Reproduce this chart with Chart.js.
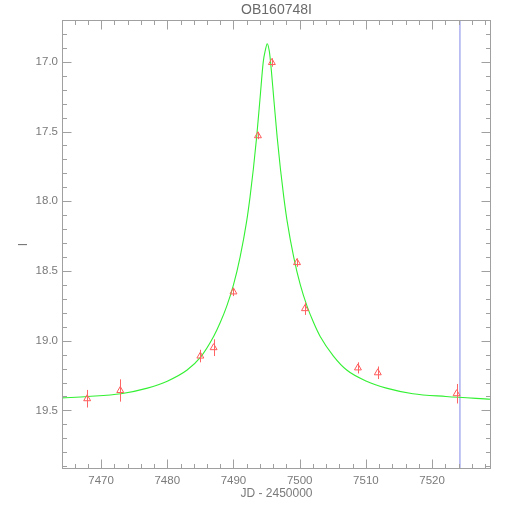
<!DOCTYPE html>
<html><head><meta charset="utf-8">
<script src="https://cdn.jsdelivr.net/npm/chart.js@4/dist/chart.umd.min.js"></script>
<style>html,body{margin:0;padding:0;background:#fff}</style>
</head><body>
<canvas id="c" width="510" height="510"></canvas>
<script>
const chartTitle = 'OB160748I';
const xTitle = 'JD - 2450000';
const yTitle = 'I';

// observations (red triangles with error bars)
const obsJD  = [7467.9, 7472.9, 7485.0, 7487.0, 7490.0, 7493.7, 7495.8, 7499.6, 7500.8, 7508.8, 7511.8, 7523.7];
const obsMag = [19.416, 19.357, 19.11, 19.05, 18.65, 17.53, 17.005, 18.44, 18.77, 19.195, 19.23, 19.38];
const obsErr = [0.063, 0.08, 0.045, 0.06, 0.03, 0.025, 0.03, 0.03, 0.045, 0.04, 0.045, 0.07];

// model light curve (green)
const modelJD  = [7464.1, 7468, 7473, 7477, 7480, 7483, 7485, 7487, 7488, 7489, 7490, 7491, 7492, 7492.5, 7493, 7493.5, 7494, 7494.5, 7494.8, 7495.1, 7495.4, 7495.6, 7496.1, 7496.6, 7497.1, 7497.6, 7498.1, 7499.1, 7500.1, 7501.1, 7502.1, 7503.1, 7505.1, 7507.1, 7510.1, 7513.1, 7517.1, 7522.1, 7528.9];
const modelMag = [19.41, 19.40, 19.38, 19.34, 19.29, 19.21, 19.12, 18.97, 18.87, 18.75, 18.60, 18.40, 18.14, 17.97, 17.77, 17.54, 17.27, 17.00, 16.92, 16.87, 16.92, 17.00, 17.27, 17.54, 17.77, 17.97, 18.14, 18.40, 18.60, 18.75, 18.87, 18.97, 19.11, 19.21, 19.29, 19.34, 19.38, 19.40, 19.42];

// vertical marker line
const markerJD = 7524.2;

const xRange = [7464.1, 7528.9];
const yRange = [16.70, 19.92];
const xTicks = [7470, 7480, 7490, 7500, 7510, 7520];
const yTicks = [17.0, 17.5, 18.0, 18.5, 19.0, 19.5];
const xMinorStep = 2;
const yMinorStep = 0.1;

const axisColor = '#a0a0a0';
const textColor = '#7a7a7a';
const fontFam = "'Liberation Sans', Arial, sans-serif";

const errorBars = {
  id: 'errorBars',
  afterDatasetsDraw(chart) {
    const xs = chart.scales.x, ys = chart.scales.y;
    const ctx = chart.ctx;
    ctx.save();
    ctx.strokeStyle = 'rgb(255,100,100)';
    ctx.lineWidth = 1;
    ctx.beginPath();
    obsJD.forEach((jd, i) => {
      const px = Math.round(xs.getPixelForValue(jd)) + 0.5;
      ctx.moveTo(px, ys.getPixelForValue(obsMag[i] - obsErr[i]));
      ctx.lineTo(px, ys.getPixelForValue(obsMag[i] + obsErr[i]));
    });
    ctx.stroke();
    ctx.restore();
  }
};

const frame = {
  id: 'frame',
  afterDraw(chart) {
    const {ctx, chartArea: a} = chart;
    const xs = chart.scales.x, ys = chart.scales.y;
    ctx.save();
    ctx.strokeStyle = axisColor;
    ctx.lineWidth = 1;
    const L = Math.round(a.left) + 0.5, R = Math.round(a.right) - 0.5;
    const T = Math.round(a.top) + 0.5, B = Math.round(a.bottom) - 0.5;
    ctx.strokeRect(L, T, R - L, B - T);
    ctx.beginPath();
    const major = 9, minor = 4.5;
    const xv0 = Math.ceil(xRange[0] / xMinorStep) * xMinorStep;
    for (let v = xv0; v <= xRange[1] + 1e-9; v += xMinorStep) {
      const isMaj = xTicks.some(t => Math.abs(t - v) < 1e-6);
      const len = isMaj ? major : minor;
      const px = Math.round(xs.getPixelForValue(v)) + 0.5;
      ctx.moveTo(px, B); ctx.lineTo(px, B - len);
      ctx.moveTo(px, T); ctx.lineTo(px, T + len);
    }
    const yv0 = Math.ceil(yRange[0] / yMinorStep - 1e-6) * yMinorStep;
    for (let k = 0; ; k++) {
      const v = yv0 + k * yMinorStep;
      if (v > yRange[1] + 1e-9) break;
      const isMaj = yTicks.some(t => Math.abs(t - v) < 1e-6);
      const len = isMaj ? major : minor;
      const py = Math.round(ys.getPixelForValue(v)) + 0.5;
      ctx.moveTo(L, py); ctx.lineTo(L + len, py);
      ctx.moveTo(R, py); ctx.lineTo(R - len, py);
    }
    ctx.stroke();
    ctx.restore();
  }
};

new Chart(document.getElementById('c'), {
  type: 'line',
  data: {
    datasets: [
      {
        label: 'obs',
        data: obsJD.map((x, i) => ({x, y: obsMag[i]})),
        showLine: false,
        pointStyle: 'triangle',
        pointRadius: 4,
        pointBorderWidth: 1,
        pointBorderColor: 'rgb(255,90,90)',
        pointBackgroundColor: 'rgba(0,0,0,0)',
        order: 0
      },
      {
        label: 'model',
        data: modelJD.map((x, i) => ({x, y: modelMag[i]})),
        borderColor: '#33f033',
        borderWidth: 1.1,
        pointRadius: 0,
        cubicInterpolationMode: 'monotone',
        fill: false,
        order: 1
      },
      {
        label: 'marker',
        data: [{x: markerJD, y: yRange[0]}, {x: markerJD, y: yRange[1]}],
        borderColor: '#b4b8f2',
        borderWidth: 1,
        pointRadius: 0,
        fill: false,
        order: 2
      }
    ]
  },
  options: {
    responsive: false,
    animation: false,
    devicePixelRatio: 1,
    layout: {padding: 0},
    plugins: {legend: {display: false}, tooltip: {enabled: false}, title: {display: false}},
    scales: {
      x: {
        type: 'linear', position: 'bottom', min: xRange[0], max: xRange[1],
        afterBuildTicks: s => { s.ticks = xTicks.map(v => ({value: v})); },
        afterFit: s => { s.height = 41; },
        grid: {display: false, drawTicks: false},
        border: {display: false},
        ticks: {color: textColor, font: {family: fontFam, size: 11.5}, padding: 5, maxRotation: 0, autoSkip: false, callback: v => String(v)},
        title: {display: true, text: xTitle, color: textColor, font: {family: fontFam, size: 12}, padding: {top: 0, bottom: 9}}
      },
      x2: {
        type: 'linear', position: 'top', min: xRange[0], max: xRange[1],
        afterFit: s => { s.height = 20; },
        grid: {display: false, drawTicks: false},
        border: {display: false},
        ticks: {display: false},
        title: {display: true, text: chartTitle, color: '#6a6a6a', font: {family: fontFam, size: 14}, padding: {top: 1.5, bottom: 0}}
      },
      y: {
        type: 'linear', position: 'left', reverse: true, min: yRange[0], max: yRange[1],
        afterBuildTicks: s => { s.ticks = yTicks.map(v => ({value: v})); },
        afterFit: s => { s.width = 62; },
        grid: {display: false, drawTicks: false},
        border: {display: false},
        ticks: {color: textColor, font: {family: fontFam, size: 11.5}, padding: 4, autoSkip: false, callback: v => Number(v).toFixed(1)},
        title: {display: true, text: yTitle, color: textColor, font: {family: fontFam, size: 12}, padding: {top: 16, bottom: 0}}
      },
      y2: {
        type: 'linear', position: 'right', reverse: true, min: yRange[0], max: yRange[1],
        afterFit: s => { s.width = 19; },
        grid: {display: false, drawTicks: false},
        border: {display: false},
        ticks: {display: false}
      }
    }
  },
  plugins: [errorBars, frame]
});
</script>
</body></html>
